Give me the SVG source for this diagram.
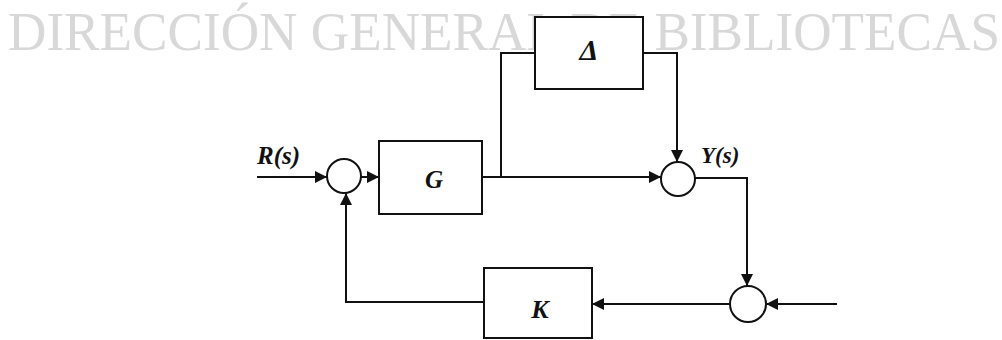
<svg xmlns="http://www.w3.org/2000/svg" width="1002" height="340" viewBox="0 0 1002 340">
  <defs>
    <marker id="arr" viewBox="0 0 10 10" refX="10" refY="5" markerWidth="12" markerHeight="12" markerUnits="userSpaceOnUse" orient="auto">
      <path d="M0,0 L10,5 L0,10 Z" fill="#111"/>
    </marker>
  </defs>
  <style>
    .blk { fill: #fff; stroke: #111; stroke-width: 2; }
    .sum { fill: #fff; stroke: #111; stroke-width: 2; }
    .wire { fill: none; stroke: #111; stroke-width: 2; }
    .arrow { marker-end: url(#arr); }
    .lbl { font-family: "Liberation Serif", "Times New Roman", serif; font-weight: bold; font-style: italic; fill: #111; }
    .wm { font-family: "Liberation Serif", "Times New Roman", serif; fill: #d8d8d8; }
  </style>
  <rect width="1002" height="340" fill="#fff"/>

  <!-- background heading -->
  <text class="wm" x="8" y="50" font-size="55" textLength="992" lengthAdjust="spacingAndGlyphs">DIRECCIÓN GENERAL DE BIBLIOTECAS</text>

  <!-- signal lines -->
  <g id="connectors">
    <path class="wire arrow" d="M257,177 H327"/>
    <path class="wire arrow" d="M361,177 H379"/>
    <path class="wire arrow" d="M482,177 H661"/>
    <path class="wire" d="M501,177 V53 H535"/>
    <path class="wire arrow" d="M643,53 H677 V162"/>
    <path class="wire arrow" d="M695,178 H747 V286"/>
    <path class="wire arrow" d="M837,304 H766"/>
    <path class="wire arrow" d="M730,304 H592"/>
    <path class="wire arrow" d="M484,302 H346 V193"/>
  </g>

  <g id="sum-in">
    <circle class="sum" cx="344" cy="176" r="17"/>
  </g>
  <g id="block-G">
    <rect class="blk" x="379" y="141" width="103" height="73"/>
    <text class="lbl" x="434" y="188" font-size="25" text-anchor="middle">G</text>
  </g>
  <g id="block-Delta">
    <rect class="blk" x="535" y="17" width="108" height="72"/>
    <text class="lbl" x="589" y="60" font-size="30" text-anchor="middle">Δ</text>
  </g>
  <g id="sum-out">
    <circle class="sum" cx="678" cy="179" r="17"/>
  </g>
  <g id="sum-noise">
    <circle class="sum" cx="748" cy="304" r="18"/>
  </g>
  <g id="block-K">
    <rect class="blk" x="484" y="268" width="108" height="70"/>
    <text class="lbl" x="540" y="318" font-size="26" text-anchor="middle">K</text>
  </g>

  <g id="labels">
    <text class="lbl" x="257" y="164" font-size="25">R(s)</text>
    <text class="lbl" x="701" y="163" font-size="23">Y(s)</text>
  </g>
</svg>
